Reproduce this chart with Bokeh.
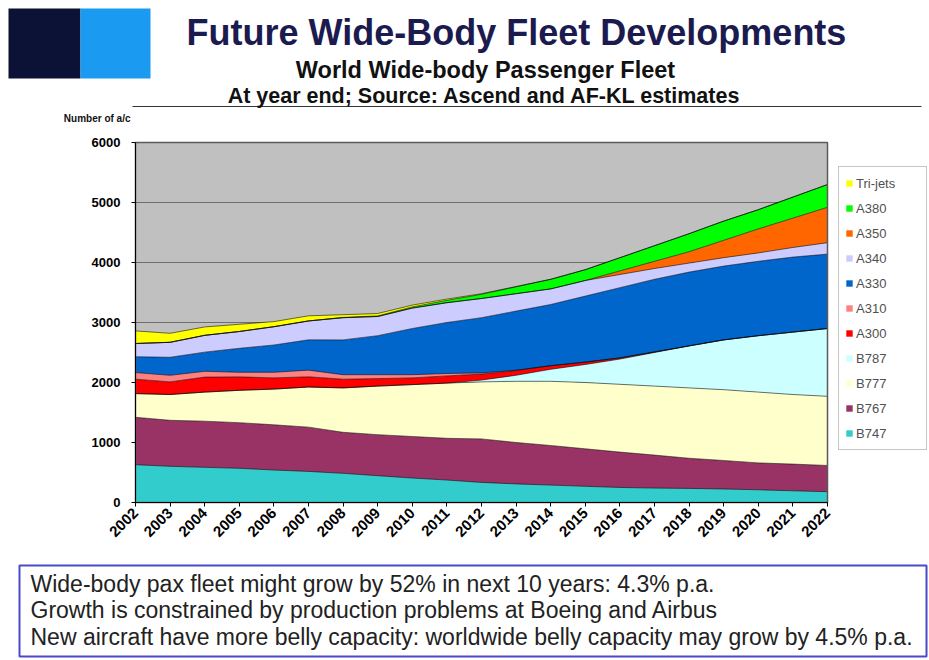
from math import pi
from bokeh.plotting import figure
from bokeh.models import (ColumnDataSource, FixedTicker, Legend, LegendItem,
                          Label, Range1d, LinearAxis)
from bokeh.transform import stack
from bokeh.embed import file_html
from bokeh.resources import INLINE

# ---------------- data ----------------
years = [2002, 2003, 2004, 2005, 2006, 2007, 2008, 2009, 2010, 2011, 2012,
         2013, 2014, 2015, 2016, 2017, 2018, 2019, 2020, 2021, 2022]
b747 = [630, 603, 586, 570, 541, 518, 486, 447, 408, 374, 335, 310, 290, 270, 251, 240, 235, 225, 212, 195, 180]
b767 = [790, 767, 769, 760, 754, 738, 684, 683, 692, 696, 725, 690, 660, 625, 589, 550, 502, 475, 448, 445, 437]
b777 = [395, 430, 485, 540, 595, 669, 740, 810, 865, 920, 950, 1020, 1070, 1105, 1130, 1150, 1173, 1180, 1180, 1160, 1153]
b787 = [0, 0, 0, 0, 0, 0, 0, 0, 0, 0, 30, 100, 200, 300, 420, 560, 700, 830, 940, 1040, 1130]
a300 = [240, 210, 250, 224, 187, 170, 145, 125, 112, 120, 100, 80, 60, 40, 20, 10, 0, 0, 0, 0, 0]
a310 = [110, 110, 96, 76, 93, 111, 75, 65, 53, 40, 20, 5, 0, 0, 0, 0, 0, 0, 0, 0, 0]
a330 = [265, 300, 320, 400, 455, 505, 580, 650, 770, 850, 920, 985, 1020, 1100, 1170, 1210, 1230, 1230, 1240, 1250, 1240]
a340 = [220, 250, 280, 280, 305, 315, 370, 320, 340, 330, 320, 290, 260, 260, 220, 180, 150, 140, 140, 160, 190]
a350 = [0, 0, 0, 0, 0, 0, 0, 0, 0, 0, 0, 0, 0, 0, 60, 120, 190, 290, 400, 490, 590]
a380 = [0, 0, 0, 0, 0, 0, 5, 10, 20, 40, 70, 115, 160, 180, 220, 260, 300, 320, 320, 350, 380]
trijets = [210, 150, 140, 120, 85, 85, 45, 40, 30, 20, 10, 5, 0, 0, 0, 0, 0, 0, 0, 0, 0]

series_names = ["B747", "B767", "B777", "B787", "A300", "A310", "A330", "A340", "A350", "A380", "Tri-jets"]
series_cols = ["b747", "b767", "b777", "b787", "a300", "a310", "a330", "a340", "a350", "a380", "trijets"]
series_colors = ["#33CCCC", "#993366", "#FFFFCC", "#CCFFFF", "#FF0000", "#FF8080",
                 "#0066CC", "#CCCCFF", "#FF6600", "#00FF00", "#FFFF00"]
y_ticks = [0, 1000, 2000, 3000, 4000, 5000, 6000]

title = "Future Wide-Body Fleet Developments"
subtitle1 = "World Wide-body Passenger Fleet"
subtitle2 = "At year end; Source: Ascend and AF-KL estimates"
y_title = "Number of a/c"
notes = ["Wide-body pax fleet might grow by 52% in next 10 years: 4.3% p.a.",
         "Growth is constrained by production problems at Boeing and Airbus",
         "New aircraft have more belly capacity: worldwide belly capacity may grow by 4.5% p.a."]

source = ColumnDataSource(dict(year=years, b747=b747, b767=b767, b777=b777, b787=b787,
                               a300=a300, a310=a310, a330=a330, a340=a340, a350=a350,
                               a380=a380, trijets=trijets))

FONT = "Liberation Sans"
W, H = 929, 660
FL, FR, FT, FB = 135, 827, 142, 502        # plot-area edges in canvas pixels
x_per_px = (max(years) - min(years)) / (FR - FL)
y_per_px = (max(y_ticks) - min(y_ticks)) / (FB - FT)

# one frame covering the whole canvas; data ranges chosen so the plot area sits at FL..FR, FT..FB
p = figure(width=W, height=H, output_backend="svg", toolbar_location=None,
           x_range=Range1d(min(years) - FL * x_per_px, min(years) + (W - FL) * x_per_px),
           y_range=Range1d(min(y_ticks) - (H - FB) * y_per_px, max(y_ticks) + FT * y_per_px),
           x_axis_location=None, y_axis_location=None,
           min_border_left=0, min_border_right=0, min_border_top=0, min_border_bottom=0)
p.extra_x_ranges = {"px": Range1d(0, W)}
p.extra_y_ranges = {"py": Range1d(H, 0)}
p.background_fill_color = "white"
p.border_fill_color = "white"
p.outline_line_color = None
p.grid.visible = False

# plot area background + gridlines (behind areas)
p.quad(left=[min(years)], right=[max(years)], bottom=[min(y_ticks)], top=[max(y_ticks)],
       fill_color="#C0C0C0", line_color=None)
p.segment(x0=[min(years)] * len(y_ticks), x1=[max(years)] * len(y_ticks),
          y0=y_ticks, y1=y_ticks, line_color="#6E6E6E", line_width=1)

renderers = p.varea_stack(stackers=series_cols, x="year", color=series_colors, source=source)
for i in range(len(series_cols)):
    p.line(x="year", y=stack(*series_cols[:i + 1]), source=source,
           line_color="black", line_width=1, line_alpha=0.55)

# plot-area border on top
p.quad(left=[min(years)], right=[max(years)], bottom=[min(y_ticks)], top=[max(y_ticks)],
       fill_color=None, line_color="#5A5A5A", line_width=1.5)

# axes, pinned to the plot area
yaxis = LinearAxis(fixed_location=min(years), ticker=FixedTicker(ticks=y_ticks),
                   bounds=(min(y_ticks), max(y_ticks)))
xaxis = LinearAxis(fixed_location=min(y_ticks), ticker=FixedTicker(ticks=years),
                   bounds=(min(years), max(years)), major_label_orientation=pi / 4)
for ax in (xaxis, yaxis):
    ax.major_label_text_font = FONT
    ax.major_label_text_font_style = "bold"
    ax.major_label_text_color = "black"
    ax.axis_line_color = "black"
    ax.axis_line_width = 1
    ax.major_tick_line_color = "black"
    ax.major_tick_in = 0
    ax.major_tick_out = 4
    ax.minor_tick_line_color = None
xaxis.major_label_text_font_size = "15px"
yaxis.major_label_text_font_size = "13px"
yaxis.major_label_standoff = 11
xaxis.major_label_standoff = 4
p.add_layout(yaxis, "left")
p.add_layout(xaxis, "below")

# legend (right of the plot area)
items = [LegendItem(label=n, renderers=[r]) for n, r in zip(series_names, renderers)][::-1]
legend = Legend(items=items, location=(838, H - 450), margin=0, padding=6,
                glyph_width=8, glyph_height=8, label_height=20, spacing=5,
                label_width=64, label_standoff=3,
                label_text_font=FONT, label_text_font_size="13px", label_text_color="#505050",
                border_line_color="#8C8C8C", border_line_width=1,
                background_fill_color="white", background_fill_alpha=1)
p.add_layout(legend)


# ---------------- header and notes (canvas-pixel ranges) ----------------
def label(x, y, text, **kw):
    p.add_layout(Label(x=x, y=y, text=text, text_font=FONT,
                       x_range_name="px", y_range_name="py", **kw))


p.quad(left=[8, 80], right=[80, 150], top=[8, 8], bottom=[78, 78],
       fill_color=["#0B1236", "#1A9AF0"], line_color=None,
       x_range_name="px", y_range_name="py")
label(516, 32, title, text_font_size="36px", text_font_style="bold", text_color="#1B1B50",
      text_align="center", text_baseline="alphabetic")
label(485, 69, subtitle1, text_font_size="23.5px", text_font_style="bold", text_color="#111111",
      text_align="center", text_baseline="alphabetic")
label(484, 95, subtitle2, text_font_size="21.5px", text_font_style="bold", text_color="#111111",
      text_align="center", text_baseline="alphabetic")
label(130, 118, y_title, text_font_size="10px", text_font_style="bold", text_color="#111111",
      text_align="right", text_baseline="alphabetic")
p.segment(x0=[132], y0=[106], x1=[921], y1=[106], line_color="#333333", line_width=1,
          x_range_name="px", y_range_name="py")

p.quad(left=[19], right=[926], top=[565], bottom=[656], fill_color=None,
       line_color="#4A4ACC", line_width=2, x_range_name="px", y_range_name="py")
for i, t in enumerate(notes):
    label(30, 583 + 26.5 * i, t, text_font_size="23px", text_color="#222222",
          text_align="left", text_baseline="alphabetic")

open("out.html", "w").write(file_html(p, INLINE))
